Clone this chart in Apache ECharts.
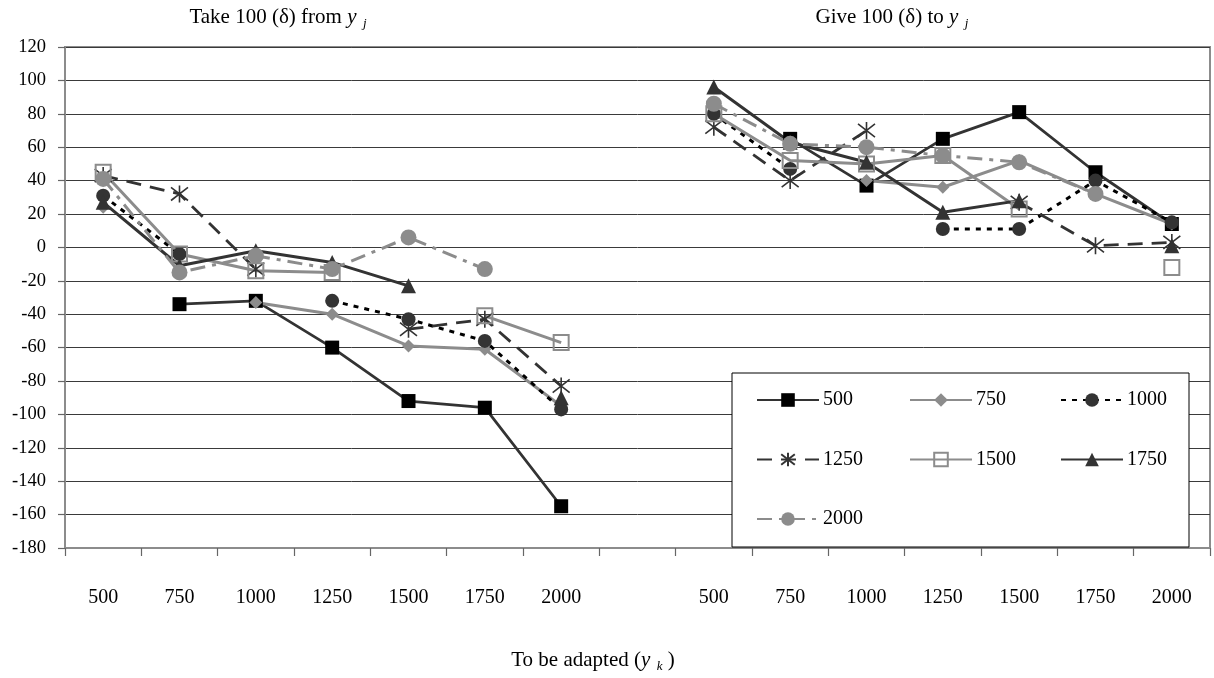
<!DOCTYPE html>
<html>
<head>
<meta charset="utf-8">
<script src="https://cdn.jsdelivr.net/npm/echarts@6/dist/echarts.min.js"></script>
<style>html,body{margin:0;padding:0;background:#fff;}#c{width:1214px;height:678px;}</style>
</head>
<body>
<div id="c"></div>
<script>
var categories = ['500','750','1000','1250','1500','1750','2000','','500','750','1000','1250','1500','1750','2000'];
var yTicks = {min: -180, max: 120, interval: 20};
var s500  = [null,-34,-32,-60,-92,-96,-155, null, null,65,37,65,81,45,14];
var s750  = [24,null,-33,-40,-59,-61,-95, null, 79,null,40,36,52,32,14];
var s1000 = [31,-4,null,-32,-43,-56,-97, null, 80,47,null,11,11,40,15];
var s1250 = [43,32,-13,null,-49,-43,-83, null, 72,40,70,null,27,1,3];
var s1500 = [45,-4,-14,-15,null,-41,-57, null, 80,52,50,55,23,null,-12];
var s1750 = [27,-11,-2,-9,-23,null,-90, null, 96,63,51,21,28,null,1];
var s2000 = [41,-15,-5,-13,6,-13,null, null, 86,62,60,55,51,32,null];
var titleLeft = 'Take 100 (δ) from ';
var titleRight = 'Give 100 (δ) to ';
var xTitle = 'To be adapted (';

var FONT = 'Liberation Serif';
var DARK = '#333333', GRAY = '#8c8c8c';
var star = 'path://M0,0L10,10M10,0L0,10M5,-1.5L5,11.5';

function mk(name, data, o) {
  return {
    name: name, type: 'line', data: data, connectNulls: false,
    showAllSymbol: true, symbol: o.symbol, symbolSize: o.size,
    lineStyle: {color: o.line, width: o.width || 2.5, type: o.dash || 'solid'},
    itemStyle: {color: o.fill, borderColor: o.border || o.fill, borderWidth: o.bw || 0},
    emphasis: {disabled: true}, animation: false
  };
}

var series = [
  mk('500', s500, {symbol: 'rect', size: 14, line: DARK, fill: '#000', width: 2.8}),
  mk('750', s750, {symbol: 'diamond', size: 13, line: GRAY, fill: GRAY, width: 3}),
  mk('1000', s1000, {symbol: 'circle', size: 14, line: '#000', fill: DARK, width: 3, dash: [5, 6]}),
  mk('1250', s1250, {symbol: star, size: 17, line: DARK, fill: 'rgba(0,0,0,0)', border: DARK, bw: 1.6, width: 2.8, dash: [15, 9]}),
  mk('1500', s1500, {symbol: 'rect', size: 15, line: GRAY, fill: 'rgba(0,0,0,0)', border: GRAY, bw: 2, width: 3}),
  mk('1750', s1750, {symbol: 'triangle', size: 15, line: DARK, fill: DARK, width: 3}),
  mk('2000', s2000, {symbol: 'circle', size: 16, line: GRAY, fill: GRAY, width: 3, dash: [15, 7, 4, 7]})
];

function legendCol(left, names) {
  return {
    orient: 'vertical', left: left, top: 390, itemWidth: 62, itemHeight: 17, itemGap: 39.5, padding: 0,
    data: names, selectedMode: false,
    textStyle: {fontFamily: FONT, fontSize: 20, color: '#000', padding: [0,0,0,-1]}
  };
}

function richTitle(fs) {
  return {fontWeight: 'normal', rich: {
    a: {fontFamily: FONT, fontSize: fs, fontWeight: 'normal', color: '#000', verticalAlign: 'top', lineHeight: 26},
    i: {fontFamily: FONT, fontSize: fs, fontWeight: 'normal', fontStyle: 'italic', color: '#000', verticalAlign: 'top', lineHeight: 26},
    s: {fontFamily: FONT, fontSize: 13, fontWeight: 'normal', fontStyle: 'italic', color: '#000', verticalAlign: 'top', lineHeight: 26, padding: [10,0,0,0]}
  }};
}

var chart = echarts.init(document.getElementById('c'));
chart.setOption({
  animation: false,
  textStyle: {fontFamily: FONT},
  title: [
    {text: '{a|' + titleLeft + '}{i|y}{s|  j}', left: 278, top: 7, padding: 0, textAlign: 'center', textStyle: richTitle(21)},
    {text: '{a|' + titleRight + '}{i|y}{s|  j}', left: 892, top: 7, padding: 0, textAlign: 'center', textStyle: richTitle(21)},
    {text: '{a|' + xTitle + '}{i|y}{s|  k}{a| )}', left: 593, top: 650, padding: 0, textAlign: 'center', textStyle: richTitle(21)}
  ],
  grid: {left: 65, right: 4, top: 47, bottom: 130, show: true, borderColor: GRAY, borderWidth: 2, backgroundColor: 'transparent'},
  xAxis: {
    type: 'category', data: categories, boundaryGap: true,
    axisLine: {onZero: false, lineStyle: {color: GRAY, width: 2}},
    axisTick: {show: true, interval: 0, length: 8, lineStyle: {color: '#666', width: 1.2}},
    axisLabel: {interval: 0, margin: 40, fontFamily: FONT, fontSize: 20, color: '#000'},
    splitLine: {show: false}
  },
  yAxis: {
    type: 'value', min: yTicks.min, max: yTicks.max, interval: yTicks.interval,
    axisLine: {show: true, lineStyle: {color: GRAY, width: 2}},
    axisTick: {show: true, length: 7, lineStyle: {color: '#666', width: 1.2}},
    axisLabel: {margin: 19, fontFamily: FONT, fontSize: 18.5, color: '#000'},
    splitLine: {lineStyle: {color: '#3a3a3a', width: 1}}
  },
  legend: [
    legendCol(756, ['500','1250','2000']),
    legendCol(909, ['750','1500']),
    legendCol(1060, ['1000','1750'])
  ],
  graphic: [{
    type: 'rect', z: 3, shape: {x: 732, y: 373, width: 457, height: 174},
    style: {fill: '#fff', stroke: '#000', lineWidth: 1}
  }],
  series: series
});
</script>
</body>
</html>
